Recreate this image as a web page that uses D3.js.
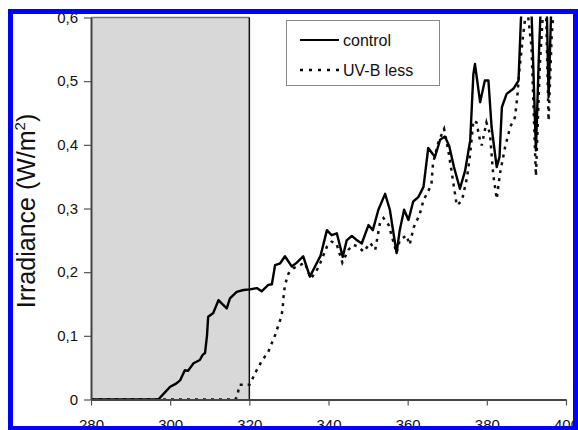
<meta charset="utf-8">
<head>
  <script src="https://d3js.org/d3.v7.min.js"></script>
  <style>
    body { margin: 0; background: #fff; }
    text { font-family: "Liberation Sans", Arial, sans-serif; }
  </style>
</head>
<body>
  <svg id="svg" width="578" height="430"></svg>
  <script>
    // wavelength (nm) and irradiance (W/m2)
    const controlNm = [280, 296, 297, 298.5, 300, 301.5, 302.5, 303.7, 304.5, 305.9, 307.5, 308.2, 308.8, 309.3, 309.6,
      310.9, 312.2, 313, 314.3, 315.1, 316.8, 318.5, 320.2, 321.9, 323.1, 324.8, 325.7, 326.5, 327.8, 329,
      330.7, 332, 333.6, 335.3, 336.6, 338, 339.6, 340.8, 342.1, 343.6, 344.6, 345.9, 347.2, 348.4, 350.1,
      351.2, 352.6, 354.3, 355.5, 357.2, 358, 359.1, 360.2, 361.4, 362.7, 364, 365.2, 366.9, 368.2, 369.4,
      370.5, 371.7, 373.2, 374.5, 375.8, 376.6, 377, 378.3, 379.5, 380.4, 381.2, 382.5, 383.2, 383.8, 385,
      386.7, 388, 388.6, 389.5, 390.9, 391.6, 392.4, 393.2, 393.9, 395, 395.6, 396.2, 396.8];
    const controlVal = [0, 0, 0, 0.01, 0.02, 0.025, 0.03, 0.046, 0.045, 0.057, 0.062, 0.07, 0.073, 0.10, 0.13,
      0.136, 0.156, 0.151, 0.143, 0.159, 0.169, 0.172, 0.173, 0.175, 0.170, 0.18, 0.181, 0.211, 0.214, 0.225,
      0.209, 0.215, 0.225, 0.193, 0.209, 0.226, 0.266, 0.258, 0.261, 0.224, 0.25, 0.257, 0.25, 0.245, 0.274,
      0.266, 0.298, 0.323, 0.298, 0.23, 0.266, 0.298, 0.282, 0.311, 0.318, 0.334, 0.395, 0.381, 0.408, 0.413,
      0.398, 0.365, 0.331, 0.359, 0.407, 0.511, 0.527, 0.467, 0.501, 0.501, 0.428, 0.365, 0.381, 0.459, 0.48,
      0.488, 0.501, 0.595, 0.68, 0.68, 0.55, 0.391, 0.55, 0.66, 0.66, 0.475, 0.6, 0.68];

    const uvbNm = [280, 316.5, 317, 317.5, 320, 320.3, 321.4, 323.1, 324.8, 326.5, 327.8, 328.4, 328.6, 329, 329.9,
      331.1, 332.8, 334, 335.5, 336.8, 337.9, 339.6, 340.8, 342, 343.5, 345, 346.3, 347.5, 348.9, 350.5,
      351.8, 353, 353.9, 355.2, 357.2, 358, 359.7, 360.5, 361.5, 363, 364, 366, 366.4, 367.8, 369.2,
      370.3, 371.5, 372.4, 373.7, 375, 375.8, 376.6, 377.4, 378.1, 378.7, 379.9, 380.8, 381.6, 382.5, 383.3,
      384.6, 385.9, 387.1, 387.7, 388.2, 389.2, 390.1, 391.3, 392.2, 392.4, 393.4, 394.3, 395, 395.6, 396.4, 397];
    const uvbVal = [0, 0, 0.007, 0.023, 0.023, 0.025, 0.041, 0.06, 0.075, 0.101, 0.125, 0.14, 0.159, 0.18, 0.198,
      0.206, 0.211, 0.215, 0.19, 0.2, 0.214, 0.24, 0.248, 0.245, 0.215, 0.235, 0.243, 0.24, 0.232, 0.246,
      0.235, 0.277, 0.285, 0.274, 0.23, 0.25, 0.258, 0.243, 0.27, 0.29, 0.313, 0.337, 0.371, 0.405, 0.425,
      0.39, 0.342, 0.305, 0.312, 0.349, 0.386, 0.438, 0.435, 0.412, 0.399, 0.435, 0.417, 0.354, 0.315, 0.354,
      0.396, 0.428, 0.443, 0.475, 0.516, 0.574, 0.62, 0.553, 0.386, 0.351, 0.527, 0.62, 0.6, 0.438, 0.574, 0.62];

    const xTicks = [280, 300, 320, 340, 360, 380, 400];
    const yTicks = [0, 0.1, 0.2, 0.3, 0.4, 0.5, 0.6];
    const shadeRange = [280, 320];

    let svg = d3.select("#svg");
    svg.append("rect").attr("width", 578).attr("height", 430).attr("fill", "#fff");

    let x = d3.scaleLinear().domain([280, 400]).range([91, 566]);
    let y = d3.scaleLinear().domain([0, 0.6]).range([399.5, 17.5]);

    // grey UV-B band
    svg.append("rect")
      .attr("x", x(shadeRange[0])).attr("y", y(0.6))
      .attr("width", x(shadeRange[1]) - x(shadeRange[0]))
      .attr("height", y(0) - y(0.6))
      .attr("fill", "#d8d8d8");
    svg.append("line")
      .attr("x1", x(shadeRange[0])).attr("x2", x(shadeRange[1]))
      .attr("y1", y(0.6)).attr("y2", y(0.6))
      .attr("stroke", "#777").attr("stroke-width", 1.5);
    svg.append("line")
      .attr("x1", x(shadeRange[1])).attr("x2", x(shadeRange[1]))
      .attr("y1", y(0.6)).attr("y2", y(0))
      .attr("stroke", "#111").attr("stroke-width", 1.5);

    svg.append("clipPath").attr("id", "plot")
      .append("rect").attr("x", 85).attr("y", y(0.6) - 1)
      .attr("width", 490).attr("height", y(0) - y(0.6) + 2);

    let line = d3.line().x(d => x(d[0])).y(d => y(d[1]));
    let control = d3.zip(controlNm, controlVal);
    let uvb = d3.zip(uvbNm, uvbVal);

    let g = svg.append("g").attr("clip-path", "url(#plot)");
    g.append("path").datum(uvb)
      .attr("d", line).attr("fill", "none")
      .attr("stroke", "#111").attr("stroke-width", 2.5)
      .attr("stroke-dasharray", "3,5");
    g.append("path").datum(control)
      .attr("d", line).attr("fill", "none")
      .attr("stroke", "#000").attr("stroke-width", 2.4)
      .attr("stroke-linejoin", "round");

    let fmt = d => d === 0 ? "0" : d3.format(".1f")(d).replace(".", ",");

    let yAxis = svg.append("g")
      .attr("transform", `translate(${x(280)},0)`)
      .call(d3.axisLeft(y).tickValues(yTicks).tickFormat(fmt).tickSize(7).tickSizeOuter(0).tickPadding(6));
    let xAxis = svg.append("g")
      .attr("transform", `translate(0,${y(0)})`)
      .call(d3.axisBottom(x).tickValues(xTicks).tickFormat(d3.format("d")).tickSize(6).tickSizeOuter(0).tickPadding(14));
    [xAxis, yAxis].forEach(a => {
      a.select(".domain").attr("stroke", "#444").attr("stroke-width", 2);
      a.selectAll(".tick line").attr("stroke", "#555").attr("stroke-width", 1.2);
      a.selectAll("text").attr("font-size", 15).attr("fill", "#111")
        .attr("font-family", "Liberation Sans, Arial, sans-serif");
    });

    // axis title
    let title = svg.append("text")
      .attr("transform", `translate(35,211) rotate(-90)`)
      .attr("text-anchor", "middle")
      .attr("font-size", 25).attr("fill", "#111");
    title.append("tspan").text("Irradiance (W/m");
    title.append("tspan").attr("font-size", 15).attr("dy", -10).text("2");
    title.append("tspan").attr("dy", 10).text(")");

    // legend
    let legend = svg.append("g");
    legend.append("rect").attr("x", 286.5).attr("y", 20.5).attr("width", 153).attr("height", 65)
      .attr("fill", "#fff").attr("stroke", "#888").attr("stroke-width", 1);
    let items = [{name: "control", dash: null, w: 2.2}, {name: "UV-B less", dash: "3,6", w: 2.5}];
    items.forEach((it, i) => {
      let yy = 40 + i * 30;
      legend.append("line").attr("x1", 300).attr("x2", 339).attr("y1", yy).attr("y2", yy)
        .attr("stroke", "#000").attr("stroke-width", it.w)
        .attr("stroke-dasharray", it.dash);
      legend.append("text").attr("x", 343).attr("y", yy + 5.5)
        .attr("font-size", 16).attr("fill", "#111").text(it.name);
    });

    // blue frame
    svg.append("rect").attr("x", 10.5).attr("y", 11.5).attr("width", 565).attr("height", 417)
      .attr("fill", "none").attr("stroke", "#0000ff").attr("stroke-width", 5);
  </script>
</body>
